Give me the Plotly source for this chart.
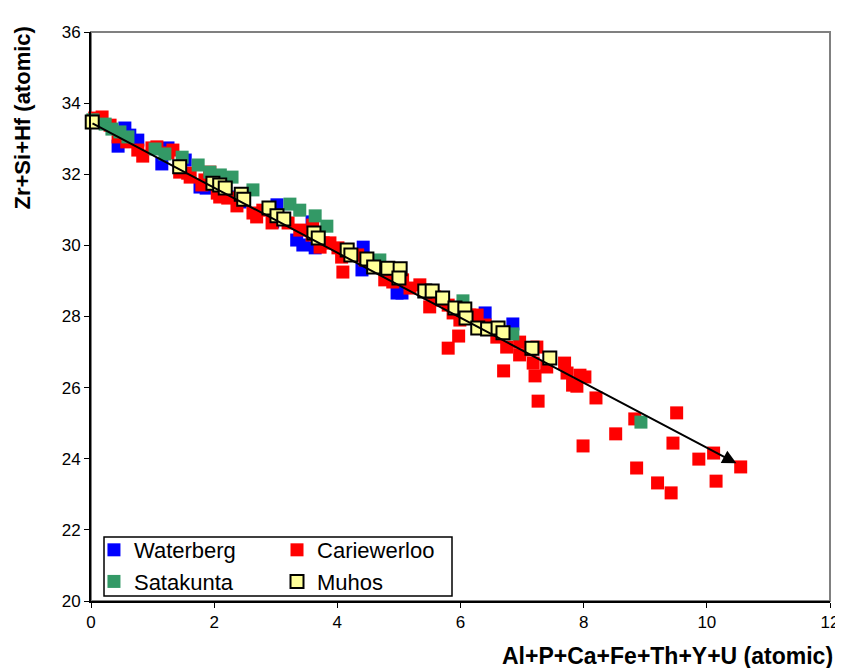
import plotly.graph_objects as go

# Waterberg
waterberg_x = [0.55, 0.63, 0.44, 0.76, 1.25, 1.15, 1.53, 1.77, 1.87, 2.31, 2.42, 2.95,
               3.02, 3.34, 3.44, 3.59, 3.64, 4.42, 4.40, 4.97, 5.05, 6.40, 6.85]
waterberg_y = [33.30, 33.10, 32.79, 32.96, 32.74, 32.29, 32.40, 31.64, 31.61, 31.36, 31.22, 30.66,
               31.14, 30.15, 30.01, 30.66, 29.93, 29.95, 29.31, 28.66, 28.66, 28.10, 27.79]

# Cariewerloo
cariewerloo_x = [0.06, 0.18, 0.31, 0.44, 0.58, 0.76, 0.84, 0.99, 1.07, 1.25, 1.33, 1.44,
                 1.57, 1.61, 1.85, 1.93, 1.93, 1.80, 2.05, 2.09, 2.22, 2.37, 2.63, 2.69,
                 2.79, 2.94, 3.02, 3.20, 3.39, 3.59, 3.60, 3.72, 3.77, 3.88, 4.01, 4.07,
                 4.09, 4.33, 4.45, 4.64, 4.77, 4.90, 5.06, 5.18, 5.34, 5.50, 5.58, 5.50,
                 5.62, 5.80, 5.88, 5.97, 5.99, 5.80, 6.15, 6.27, 6.40, 6.59, 6.70, 6.75,
                 6.96, 6.96, 7.13, 7.18, 7.24, 7.21, 7.40, 7.69, 7.73, 7.82, 7.94, 8.02,
                 7.89, 7.26, 7.99, 8.20, 8.52, 8.83, 8.86, 9.20, 9.42, 9.45, 9.51, 9.87,
                 10.11, 10.15, 10.55]
cariewerloo_y = [33.58, 33.61, 33.38, 33.05, 32.91, 32.68, 32.51, 32.74, 32.77, 32.60, 32.68, 32.06,
                 32.03, 31.92, 31.84, 32.06, 31.92, 31.70, 31.47, 31.36, 31.33, 31.11, 30.91, 30.80,
                 30.99, 30.63, 30.80, 30.63, 30.43, 30.29, 30.57, 29.95, 30.07, 30.07, 29.93, 29.67,
                 29.25, 29.73, 29.59, 29.39, 29.03, 28.97, 29.03, 28.80, 28.89, 28.66, 28.55, 28.27,
                 28.46, 28.32, 28.10, 27.45, 27.90, 27.11, 28.04, 28.04, 27.76, 27.42, 26.47, 27.14,
                 27.28, 26.92, 27.06, 26.69, 27.14, 26.33, 26.58, 26.69, 26.41, 26.07, 26.35, 26.30,
                 26.04, 25.62, 24.36, 25.71, 24.70, 25.12, 23.74, 23.32, 23.04, 24.44, 25.29, 23.99,
                 24.16, 23.37, 23.77]

# Satakunta
satakunta_x = [0.03, 0.23, 0.34, 0.47, 0.60, 1.04, 1.20, 1.48, 1.74, 1.93, 2.10, 2.29,
               2.63, 3.23, 3.39, 3.64, 3.83, 4.69, 6.04, 6.85, 8.93]
satakunta_y = [33.53, 33.41, 33.27, 33.19, 33.05, 32.71, 32.57, 32.48, 32.26, 32.06, 31.98, 31.92,
               31.56, 31.16, 30.99, 30.83, 30.54, 29.59, 28.44, 27.51, 25.03]

# Muhos
muhos_x = [0.02, 1.44, 1.98, 2.09, 2.18, 2.44, 2.48, 2.89, 3.02, 3.13, 3.62, 3.69,
           4.16, 4.22, 4.48, 4.59, 4.82, 5.02, 5.00, 5.42, 5.54, 5.71, 5.91, 6.07,
           6.09, 6.28, 6.44, 6.61, 6.69, 7.16, 7.45]
muhos_y = [33.47, 32.21, 31.75, 31.70, 31.61, 31.44, 31.30, 31.05, 30.83, 30.74, 30.35, 30.21,
           29.87, 29.73, 29.62, 29.39, 29.36, 29.34, 29.08, 28.72, 28.72, 28.52, 28.24, 28.21,
           27.96, 27.68, 27.65, 27.68, 27.54, 27.11, 26.83]

# trend arrow (start, end)
trend_x = [0.0, 10.48]
trend_y = [33.45, 23.87]

font = "Arial, Liberation Sans, sans-serif"

fig = go.Figure()
fig.add_trace(go.Scatter(x=waterberg_x, y=waterberg_y, mode="markers", name="Waterberg",
                         legend="legend", cliponaxis=False,
                         marker=dict(symbol="square", size=13, color="#0000FF")))
fig.add_trace(go.Scatter(x=cariewerloo_x, y=cariewerloo_y, mode="markers", name="Cariewerloo",
                         legend="legend2", cliponaxis=False,
                         marker=dict(symbol="square", size=13, color="#FF0000")))
fig.add_trace(go.Scatter(x=satakunta_x, y=satakunta_y, mode="markers", name="Satakunta",
                         legend="legend", cliponaxis=False,
                         marker=dict(symbol="square", size=13, color="#339966")))
fig.add_trace(go.Scatter(x=muhos_x, y=muhos_y, mode="markers", name="Muhos",
                         legend="legend2", cliponaxis=False,
                         marker=dict(symbol="square", size=13, color="#FFFF99",
                                     line=dict(color="black", width=2))))

fig.add_annotation(x=trend_x[1], y=trend_y[1], ax=trend_x[0], ay=trend_y[0],
                   xref="x", yref="y", axref="x", ayref="y", text="",
                   showarrow=True, arrowhead=2, arrowsize=1.4, arrowwidth=2, arrowcolor="black")

# axis titles placed at the axis ends
fig.add_annotation(x=1.0, y=0, xref="paper", yref="paper", xanchor="right", yanchor="middle",
                   yshift=-55, xshift=5, showarrow=False,
                   text="<b>Al+P+Ca+Fe+Th+Y+U (atomic)</b>", font=dict(size=23, color="black"))
fig.add_annotation(x=0, y=1.0, xref="paper", yref="paper", xanchor="center", yanchor="top",
                   xshift=-69, yshift=7, showarrow=False, textangle=-90,
                   text="<b>Zr+Si+Hf (atomic)</b>", font=dict(size=22, color="black"))

# grey frame on top / right and legend box
fig.add_shape(type="rect", xref="paper", yref="paper", x0=0, y0=0, x1=1, y1=1,
              line=dict(color="#808080", width=2), layer="below")
fig.add_shape(type="rect", xref="paper", yref="paper", x0=0.0176, y0=0.0088, x1=0.4885, y1=0.1125,
              line=dict(color="black", width=1.5), fillcolor="white", layer="below")

leg = dict(orientation="v", yanchor="top", xanchor="left", y=0.1265,
           bgcolor="rgba(0,0,0,0)", borderwidth=0, font=dict(size=22),
           tracegroupgap=0, itemwidth=30)
fig.update_layout(
    width=843, height=668,
    margin=dict(l=83, r=21, t=24, b=75),
    plot_bgcolor="white", paper_bgcolor="white",
    font=dict(family=font, size=17, color="black"),
    showlegend=True,
    legend=dict(leg, x=0.004),
    legend2=dict(leg, x=0.2517),
)
fig.update_xaxes(range=[0, 12], dtick=2, showgrid=False, zeroline=False,
                 showline=True, linecolor="black", linewidth=2,
                 ticks="outside", ticklen=5, tickcolor="black", tickfont=dict(size=17))
fig.update_yaxes(range=[20, 36], dtick=2, showgrid=False, zeroline=False,
                 showline=True, linecolor="black", linewidth=2,
                 ticks="outside", ticklen=5, tickcolor="black", tickfont=dict(size=17))

fig.write_html("out.html")
